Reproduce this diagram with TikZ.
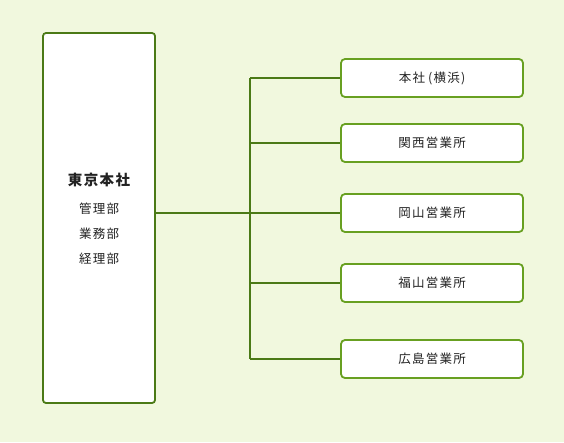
\documentclass[tikz,border=0pt]{standalone}
\usepackage{fontspec}
\setmainfont{Noto Sans CJK JP}
\newfontfamily\jpsp[LetterSpace=10]{Noto Sans CJK JP}
\definecolor{bg}{HTML}{F1F8DE}
\definecolor{dkgreen}{HTML}{4B7A16}
\definecolor{ltgreen}{HTML}{68A021}
\definecolor{txt}{HTML}{222222}
\begin{document}
\begin{tikzpicture}[x=1pt,y=-1pt,
  bigbox/.style={draw=dkgreen,line width=1.8pt,fill=white,rounded corners=3pt,minimum width=112pt,minimum height=370pt,inner sep=0pt},
  office/.style={draw=ltgreen,line width=1.8pt,fill=white,rounded corners=4pt,minimum width=182pt,minimum height=38pt,inner sep=0pt,font=\jpsp\fontsize{12.5pt}{14pt}\selectfont,text=txt},
  dept/.style={text=txt,font=\jpsp\fontsize{12.5pt}{14pt}\selectfont},
  conn/.style={draw=dkgreen,line width=1.6pt}]
\fill[bg] (0,0) rectangle (564,442);
\useasboundingbox (0,0) rectangle (564,442);
\node[bigbox] (hq) at (99,218) {};
\node[text=txt,font=\jpsp\fontsize{14.5pt}{16pt}\selectfont\bfseries] (hqname) at (99,180) {東京本社};
\node[dept] (d1) at (99,209) {管理部};
\node[dept] (d2) at (99,234) {業務部};
\node[dept] (d3) at (99,259) {経理部};
\node[office] (o1) at (432,78) {本社\hspace{3pt}(横浜)};
\node[office] (o2) at (432,143) {関西営業所};
\node[office] (o3) at (432,213) {岡山営業所};
\node[office] (o4) at (432,283) {福山営業所};
\node[office] (o5) at (432,359) {広島営業所};
\coordinate (j0) at (250,213);
\coordinate (j1) at (250,78);
\coordinate (j2) at (250,143);
\coordinate (j4) at (250,283);
\coordinate (j5) at (250,359);
\draw[conn] (hq.east |- j0) -- (j0);
\draw[conn] (j1) -- (j5);
\draw[conn] (j1) -- (o1.west);
\draw[conn] (j2) -- (o2.west);
\draw[conn] (j0) -- (o3.west);
\draw[conn] (j4) -- (o4.west);
\draw[conn] (j5) -- (o5.west);
\end{tikzpicture}
\end{document}
